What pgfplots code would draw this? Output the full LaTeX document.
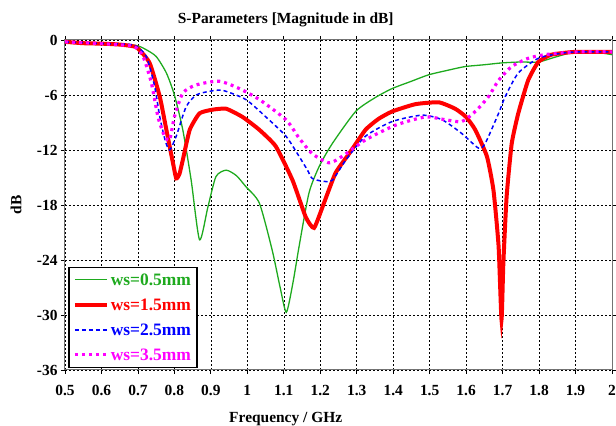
\documentclass[border=0pt]{standalone}
\usepackage{pgfplots}
\pgfplotsset{compat=1.18}
\usepackage{fontspec}
\setmainfont{Liberation Serif}
\definecolor{cgreen}{RGB}{30,170,30}
\definecolor{cred}{RGB}{255,0,0}
\definecolor{cblue}{RGB}{0,0,255}
\definecolor{cmag}{RGB}{255,0,255}
\begin{document}
\begin{tikzpicture}
\begin{axis}[
  scale only axis, width=547bp, height=330bp,
  xmin=0.5, xmax=2, ymin=-36, ymax=0,
  xtick={0.5,0.6,0.7,0.8,0.9,1,1.1,1.2,1.3,1.4,1.5,1.6,1.7,1.8,1.9,2},
  xticklabels={0.5,0.6,0.7,0.8,0.9,1,1.1,1.2,1.3,1.4,1.5,1.6,1.7,1.8,1.9,2},
  ytick={-36,-30,-24,-18,-12,-6,0},
  /pgf/number format/assume math mode=true,
  ticklabel style={font=\bfseries\fontsize{15.5}{18}\selectfont},
  xticklabel style={yshift=-8bp},
  tick align=outside, major tick length=4bp,
  tick style={black, line width=0.8bp},
  axis line style={black!55, line width=1bp},
  grid=major,
  major grid style={black, dash pattern=on 2bp off 2bp, line width=0.6bp},
  title={S-Parameters [Magnitude in dB]},
  title style={font=\bfseries\fontsize{15.5}{18}\selectfont, at={(axis description cs:0.4035,1.0424)}, anchor=center, yshift=0pt},
  xlabel={Frequency / GHz},
  xlabel style={font=\bfseries\fontsize{15.5}{18}\selectfont, at={(axis description cs:0.4035,-0.1606)}, anchor=base},
  ylabel={dB},
  ylabel style={font=\bfseries\fontsize{15.5}{18}\selectfont, at={(axis description cs:-0.0893,0.5)}, anchor=center},
  legend cell align=left,
  legend image code/.code={\draw[#1] (0bp,0bp) -- (32bp,0bp);},
  legend style={at={(axis description cs:0.0055,0.006)}, anchor=south west,
    draw=black, line width=1.5bp, fill=white, inner xsep=4bp, inner ysep=4bp,
    row sep=8bp,
    font=\bfseries\fontsize{17.5}{18}\selectfont,
    nodes={inner sep=2bp, text height=12bp, text depth=1bp},
    column 2/.style={nodes={text width=81bp, align=left}}},
]
\addplot[cgreen, line width=1.3bp, smooth, tension=0.4] coordinates {
(0.5,-0.3) (0.55,-0.4) (0.6,-0.45) (0.65,-0.5) (0.696,-0.6) (0.72,-1.0) (0.75,-1.8)
(0.778,-3.6) (0.80,-6.0) (0.823,-9.8) (0.846,-15.3) (0.869,-21.8) (0.892,-18.2)
(0.914,-14.9) (0.942,-14.2) (0.97,-14.8) (0.996,-16.0) (1.033,-17.8) (1.068,-22.9)
(1.09,-27.0) (1.107,-29.7) (1.125,-26.5) (1.142,-22.5) (1.169,-16.7) (1.197,-13.8)
(1.233,-11.3) (1.297,-7.8) (1.35,-6.3) (1.397,-5.3) (1.45,-4.5) (1.497,-3.8)
(1.55,-3.3) (1.597,-2.9) (1.65,-2.7) (1.698,-2.5) (1.75,-2.4) (1.798,-2.4)
(1.85,-1.8) (1.898,-1.3) (1.95,-1.3) (2.0,-1.6)};
\addlegendentry{\textcolor{cgreen}{ws=0.5mm}}
\addplot[cred, line width=4bp, smooth, tension=0.3] coordinates {
(0.5,-0.2) (0.55,-0.35) (0.6,-0.4) (0.65,-0.5) (0.696,-0.8) (0.732,-2.5) (0.76,-6.2)
(0.778,-9.8) (0.796,-13.4) (0.805,-15.1) (0.814,-14.6) (0.823,-13.1) (0.842,-9.8)
(0.869,-8.0) (0.905,-7.6) (0.942,-7.5) (0.987,-8.4) (1.033,-9.8) (1.078,-11.6)
(1.124,-15.3) (1.16,-19.3) (1.183,-20.5) (1.21,-17.8) (1.242,-14.5) (1.279,-12.4)
(1.324,-9.8) (1.36,-8.6) (1.397,-7.8) (1.461,-7.0) (1.525,-6.8) (1.570,-7.5)
(1.60,-8.4) (1.625,-9.8) (1.657,-12.7) (1.675,-16.4) (1.689,-22.5) (1.697,-30.5)
(1.702,-24.4) (1.711,-17.1) (1.725,-11.3) (1.743,-8.0) (1.77,-4.4) (1.798,-2.4)
(1.834,-1.6) (1.898,-1.3) (2.0,-1.3)};
\addlegendentry{\textcolor{cred}{ws=1.5mm}}
\addplot[cblue, line width=1.5bp, dash pattern=on 4bp off 3bp, smooth, tension=0.4] coordinates {
(0.5,-0.2) (0.6,-0.4) (0.687,-0.55) (0.723,-1.8) (0.746,-5.1) (0.76,-8.4) (0.775,-11.0)
(0.787,-12.0) (0.805,-10.5) (0.832,-7.3) (0.86,-6.0) (0.896,-5.6) (0.933,-5.5)
(0.996,-6.5) (1.051,-8.4) (1.106,-10.5) (1.142,-12.7) (1.165,-14.2) (1.178,-15.1)
(1.206,-15.4) (1.233,-15.3) (1.27,-13.1) (1.324,-10.5) (1.397,-8.9) (1.479,-8.2)
(1.534,-8.7) (1.588,-10.2) (1.634,-11.8) (1.652,-11.3) (1.689,-8.0) (1.707,-6.2)
(1.743,-3.6) (1.798,-2.0) (1.852,-1.5) (1.9,-1.3) (2.0,-1.3)};
\addlegendentry{\textcolor{cblue}{ws=2.5mm}}
\addplot[cmag, line width=3.2bp, dash pattern=on 3bp off 4bp, smooth, tension=0.4] coordinates {
(0.5,-0.2) (0.6,-0.4) (0.687,-0.7) (0.714,-1.8) (0.737,-4.7) (0.755,-8.4) (0.773,-10.5)
(0.787,-10.9) (0.80,-8.4) (0.823,-5.8) (0.86,-4.9) (0.923,-4.5) (0.978,-5.3)
(1.033,-6.5) (1.106,-8.7) (1.142,-10.7) (1.178,-12.4) (1.224,-13.4) (1.26,-12.7)
(1.324,-10.9) (1.406,-9.3) (1.488,-8.4) (1.543,-8.7) (1.588,-8.9) (1.625,-7.8)
(1.661,-6.2) (1.689,-4.4) (1.725,-2.9) (1.77,-2.0) (1.816,-1.6) (1.9,-1.3) (2.0,-1.3)};
\addlegendentry{\textcolor{cmag}{ws=3.5mm}}
\coordinate (bl) at (rel axis cs:0,0);
\coordinate (tr) at (rel axis cs:1,1);
\end{axis}
\pgfresetboundingbox
\path ([shift={(-65bp,-56bp)}]bl) rectangle ([shift={(4bp,40bp)}]tr);
\end{tikzpicture}
\end{document}
